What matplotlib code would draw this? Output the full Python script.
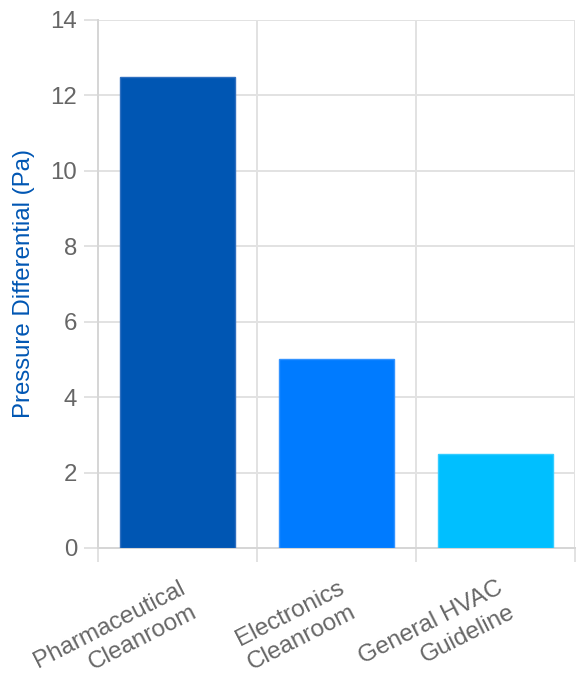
import matplotlib
matplotlib.use('Agg')
import matplotlib.pyplot as plt
import matplotlib.transforms as mtransforms
import numpy as np

categories = ['Pharmaceutical\nCleanroom', 'Electronics\nCleanroom', 'General HVAC\nGuideline']
pressure_pa = [12.5, 5.0, 2.5]
bar_colors = ['#0056b3', '#007bff', '#00bfff']
edge_colors = ['#2f6fbf', '#3393ff', '#33ccff']
y_ticks = [0, 2, 4, 6, 8, 10, 12, 14]

plt.rcParams['font.family'] = ['Liberation Sans', 'DejaVu Sans']

DPI = 100
fig = plt.figure(figsize=(5.76, 7.0), dpi=DPI)
ax = fig.add_axes([98 / 576, 1 - 548 / 700, (575 - 98) / 576, (548 - 20) / 700])

grid_color = '#e2e2e2'
tick_color = '#666666'
lw = 1.44  # 2 px

x = np.arange(len(categories))
ax.bar(x, pressure_pa, width=0.72, color=bar_colors, edgecolor=edge_colors,
       linewidth=1.0, zorder=3)

ax.set_xlim(-0.5, len(categories) - 0.5)
ax.set_ylim(0, 14)
ax.set_yticks(y_ticks)
ax.set_yticklabels([str(t) for t in y_ticks])

# vertical grid lines between categories (offset grid like chart.js)
ax.set_xticks(np.arange(-0.5, len(categories)), minor=True)
ax.set_xticks(x)
ax.set_xticklabels(categories)

ax.grid(axis='y', which='major', color=grid_color, linewidth=lw, zorder=0)
ax.grid(axis='x', which='minor', color=grid_color, linewidth=lw, zorder=0)
ax.grid(axis='x', which='major', visible=False)

for side in ['top', 'right']:
    ax.spines[side].set_visible(False)
ax.spines['left'].set_color('#d6d6d6')
ax.spines['bottom'].set_color('#d6d6d6')
ax.spines['left'].set_linewidth(lw)
ax.spines['bottom'].set_linewidth(lw)

ax.tick_params(axis='y', which='major', length=10, width=lw, color=grid_color,
               labelsize=17.3, labelcolor=tick_color, pad=5)
ax.tick_params(axis='x', which='minor', length=10, width=lw, color=grid_color)
ax.tick_params(axis='x', which='major', length=0, labelsize=17.5,
               labelcolor=tick_color, pad=21)

offset = mtransforms.ScaledTranslation(1 / DPI, 0, fig.dpi_scale_trans)
for lab in ax.get_xticklabels():
    lab.set_rotation(27)
    lab.set_rotation_mode('anchor')
    lab.set_ha('right')
    lab.set_va('top')
    lab.set_multialignment('right')
    lab.set_linespacing(1.3)
    lab.set_transform(lab.get_transform() + offset)

ax.set_ylabel('Pressure Differential (Pa)', fontsize=17.3, color='#0056b3',
              labelpad=11)

fig.savefig('out.png', dpi=DPI)
